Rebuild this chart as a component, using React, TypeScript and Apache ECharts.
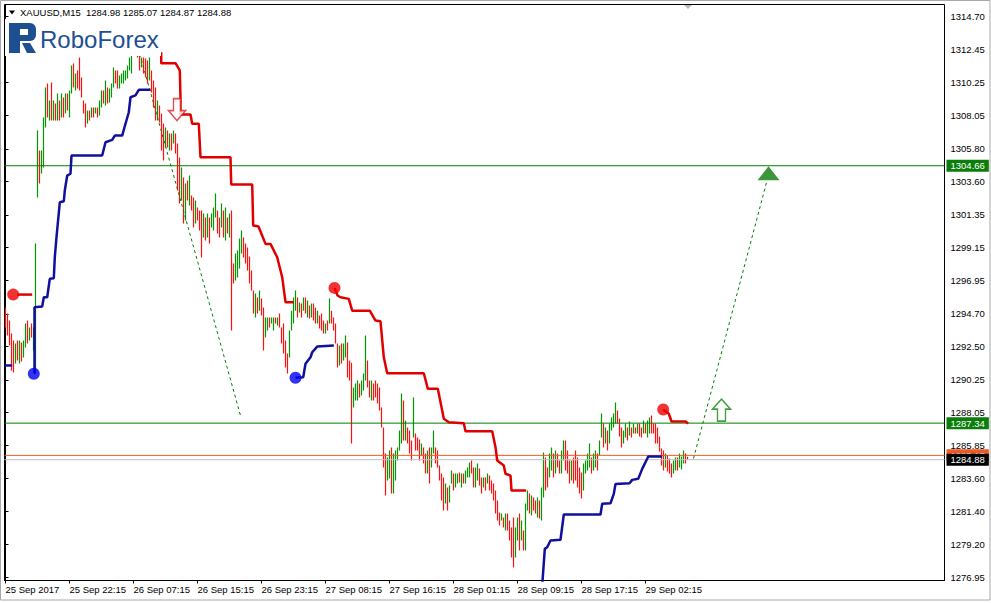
import { useEffect, useRef } from 'react';
import * as echarts from 'echarts';

const FONT = '"Liberation Sans", Arial, Helvetica, sans-serif';
const UP_COLOR = '#009a00';
const DOWN_COLOR = '#ff1010';
const RES_COLOR = '#e00000';
const SUP_COLOR = '#10109c';
const FORECAST_COLOR = '#008000';
const LOGO_BLUE = '#1d4f91';

// ---- OHLC bars (XAUUSD M15): high, low and direction (u = up bar, d = down bar) ----
const barHighs = [
  1295.12, 1294.71, 1294.24, 1293.37, 1292.90, 1292.69, 1292.90, 1292.90, 1292.76, 1292.90,
  1294.04, 1294.24, 1293.77, 1294.04, 1293.77, 1299.43, 1307.03, 1305.68, 1305.68, 1307.91,
  1309.92, 1310.19, 1309.05, 1310.26, 1309.05, 1308.85, 1309.52, 1309.05, 1309.52, 1309.25,
  1309.52, 1309.52, 1309.72, 1311.40, 1311.54, 1310.87, 1311.07, 1311.94, 1310.60, 1309.05,
  1308.85, 1308.38, 1308.38, 1308.58, 1308.58, 1308.58, 1308.58, 1309.05, 1309.72, 1309.72,
  1310.39, 1309.92, 1309.86, 1310.19, 1311.27, 1311.07, 1311.07, 1310.73, 1310.87, 1311.07,
  1311.07, 1311.40, 1311.94, 1312.75, 1313.42, 1313.76, 1313.42, 1312.75, 1311.94, 1311.94,
  1311.87, 1311.74, 1311.94, 1311.07, 1310.39, 1309.92, 1309.05, 1308.71, 1308.17, 1307.50,
  1307.23, 1307.03, 1306.83, 1306.83, 1307.03, 1306.83, 1306.15, 1305.21, 1304.54, 1303.87,
  1303.46, 1303.67, 1304.00, 1302.66, 1302.52, 1302.32, 1301.85, 1301.65, 1301.65, 1301.44,
  1301.17, 1301.44, 1301.17, 1301.44, 1301.85, 1302.79, 1301.65, 1301.17, 1302.12, 1301.65,
  1301.85, 1301.17, 1301.44, 1301.65, 1298.08, 1298.75, 1298.95, 1299.76, 1300.30, 1299.83,
  1299.43, 1299.16, 1298.55, 1297.61, 1296.26, 1296.06, 1295.79, 1296.26, 1295.73, 1295.12,
  1294.44, 1294.44, 1294.44, 1294.44, 1294.44, 1294.44, 1294.44, 1294.71, 1293.77, 1294.04,
  1292.90, 1292.02, 1293.57, 1294.91, 1295.79, 1296.26, 1295.79, 1295.46, 1295.39, 1295.79,
  1295.79, 1295.59, 1295.25, 1295.39, 1295.39, 1295.12, 1294.91, 1294.58, 1294.71, 1294.24,
  1294.04, 1294.24, 1295.73, 1294.91, 1294.44, 1294.04, 1292.69, 1292.56, 1292.69, 1292.69,
  1293.23, 1292.76, 1291.55, 1291.41, 1289.74, 1290.01, 1290.21, 1290.01, 1290.21, 1290.68,
  1293.23, 1291.55, 1290.21, 1290.21, 1290.01, 1290.21, 1290.01, 1289.74, 1288.39, 1287.04,
  1285.29, 1285.02, 1285.50, 1285.70, 1285.29, 1285.50, 1285.70, 1286.84, 1289.33, 1288.86,
  1287.52, 1287.04, 1286.84, 1286.17, 1289.06, 1286.64, 1286.37, 1286.24, 1285.97, 1285.70,
  1285.29, 1285.50, 1285.70, 1285.70, 1286.84, 1285.70, 1285.50, 1284.49, 1283.95, 1283.68,
  1283.28, 1283.01, 1283.14, 1284.15, 1283.95, 1283.95, 1283.95, 1284.02, 1283.95, 1283.95,
  1284.15, 1284.35, 1284.69, 1284.82, 1284.35, 1284.35, 1284.62, 1284.29, 1283.68, 1283.68,
  1283.68, 1283.95, 1283.82, 1283.48, 1283.28, 1282.80, 1282.13, 1281.33, 1281.26, 1280.99,
  1281.26, 1281.26, 1280.79, 1280.31, 1280.99, 1280.31, 1280.99, 1281.26, 1280.79, 1280.11,
  1281.93, 1282.80, 1282.60, 1282.47, 1282.33, 1282.13, 1282.33, 1282.13, 1283.01, 1285.36,
  1285.02, 1284.35, 1285.29, 1285.70, 1285.29, 1285.50, 1285.29, 1284.82, 1285.50, 1286.17,
  1286.17, 1285.50, 1284.82, 1284.82, 1285.02, 1285.50, 1285.02, 1284.35, 1284.02, 1284.62,
  1284.82, 1285.29, 1285.97, 1285.02, 1285.29, 1285.50, 1285.29, 1286.17, 1287.99, 1287.31,
  1287.04, 1286.84, 1287.31, 1287.72, 1287.99, 1288.73, 1288.19, 1287.65, 1287.04, 1286.84,
  1287.31, 1287.04, 1287.45, 1287.04, 1287.31, 1287.04, 1287.31, 1287.31, 1287.04, 1287.52,
  1287.31, 1287.52, 1287.72, 1287.85, 1287.31, 1287.31, 1287.04, 1286.44, 1285.63, 1285.50,
  1285.29, 1285.16, 1284.96, 1284.62, 1284.82, 1285.02, 1285.02, 1285.29, 1285.09, 1285.50,
  1285.29, 1285.07,
];

const barLows = [
  1293.77, 1293.23, 1292.56, 1290.88, 1290.74, 1291.35, 1291.55, 1291.35, 1291.48, 1291.75,
  1292.43, 1292.69, 1292.90, 1293.10, 1292.22, 1290.74, 1302.52, 1303.46, 1304.14, 1304.54,
  1307.23, 1307.91, 1307.70, 1307.70, 1307.70, 1307.70, 1307.70, 1307.70, 1307.91, 1307.91,
  1308.17, 1308.38, 1307.91, 1309.52, 1309.92, 1309.72, 1309.86, 1309.72, 1309.25, 1308.17,
  1307.23, 1307.50, 1307.70, 1307.91, 1307.91, 1308.17, 1307.91, 1308.04, 1308.58, 1308.85,
  1308.71, 1308.85, 1308.91, 1309.25, 1309.92, 1310.19, 1309.86, 1309.86, 1310.19, 1310.19,
  1310.39, 1310.53, 1311.07, 1310.87, 1312.08, 1312.28, 1311.94, 1311.07, 1311.27, 1310.87,
  1310.60, 1310.19, 1310.39, 1309.59, 1308.58, 1307.70, 1307.70, 1307.57, 1305.68, 1305.01,
  1305.89, 1305.89, 1305.68, 1305.68, 1306.15, 1305.48, 1302.99, 1302.12, 1302.32, 1300.77,
  1300.97, 1302.32, 1301.99, 1301.65, 1300.50, 1300.77, 1300.97, 1300.30, 1298.48, 1299.83,
  1299.63, 1299.83, 1299.43, 1300.50, 1300.30, 1301.17, 1300.10, 1299.83, 1300.50, 1299.83,
  1299.63, 1300.10, 1299.83, 1293.57, 1296.73, 1296.94, 1297.14, 1297.74, 1298.75, 1298.48,
  1298.08, 1297.61, 1296.73, 1296.26, 1294.71, 1294.44, 1294.71, 1294.91, 1294.58, 1292.22,
  1293.10, 1293.57, 1293.77, 1294.04, 1293.57, 1294.04, 1293.91, 1293.77, 1292.69, 1292.02,
  1291.08, 1290.68, 1291.75, 1293.57, 1294.04, 1294.91, 1294.44, 1294.78, 1294.44, 1294.91,
  1294.71, 1294.44, 1294.38, 1294.44, 1294.24, 1294.04, 1294.04, 1293.71, 1293.57, 1293.37,
  1293.37, 1293.57, 1294.04, 1294.04, 1293.57, 1292.69, 1291.08, 1291.21, 1291.35, 1291.55,
  1291.75, 1290.41, 1290.21, 1285.97, 1288.39, 1288.86, 1288.86, 1289.06, 1289.20, 1289.54,
  1290.21, 1289.74, 1289.06, 1288.86, 1288.86, 1289.06, 1288.66, 1288.19, 1287.04, 1284.35,
  1282.47, 1283.48, 1283.61, 1282.60, 1282.60, 1283.48, 1284.82, 1285.50, 1285.97, 1286.17,
  1286.17, 1285.97, 1285.29, 1284.82, 1286.37, 1285.50, 1285.50, 1284.82, 1285.16, 1284.62,
  1283.95, 1283.95, 1283.28, 1284.35, 1285.29, 1284.62, 1284.35, 1283.48, 1282.13, 1281.46,
  1281.93, 1281.46, 1282.00, 1283.28, 1282.80, 1283.01, 1283.28, 1283.34, 1283.01, 1283.28,
  1283.28, 1283.68, 1283.68, 1283.95, 1283.01, 1283.01, 1283.48, 1283.14, 1282.60, 1283.01,
  1282.80, 1283.28, 1282.80, 1282.60, 1282.13, 1281.26, 1280.79, 1280.45, 1280.79, 1280.31,
  1280.11, 1280.11, 1279.44, 1278.30, 1277.62, 1278.30, 1279.44, 1278.77, 1279.44, 1278.77,
  1278.77, 1281.46, 1281.26, 1281.12, 1281.46, 1281.26, 1280.99, 1280.92, 1280.79, 1282.33,
  1282.80, 1283.01, 1283.68, 1284.15, 1283.68, 1283.95, 1284.35, 1283.95, 1283.95, 1284.82,
  1284.15, 1283.95, 1283.28, 1283.48, 1283.28, 1283.48, 1283.01, 1282.60, 1282.27, 1282.80,
  1283.95, 1284.15, 1284.35, 1283.95, 1284.15, 1284.35, 1284.15, 1285.16, 1286.37, 1285.70,
  1285.97, 1285.50, 1285.97, 1286.84, 1287.04, 1287.31, 1287.31, 1286.44, 1285.70, 1285.97,
  1286.37, 1286.17, 1286.51, 1286.37, 1286.64, 1286.64, 1286.64, 1286.44, 1286.37, 1286.64,
  1286.64, 1286.37, 1286.64, 1286.64, 1286.64, 1285.97, 1285.97, 1285.43, 1284.49, 1284.15,
  1284.35, 1284.08, 1283.95, 1283.68, 1283.95, 1284.15, 1284.15, 1284.35, 1284.22, 1284.62,
  1284.62, 1284.87,
];

const barDirs = [
  'dddddududu', 'ududuuuduu', 'ududududud', 'uduududddd', 'dudududuud',
  'uduuudduuu', 'uuuuudddud', 'dduddduddd', 'udududddud', 'ududdudddu',
  'duduuuddud', 'ududduuuud', 'dddddududd', 'uuduududdd', 'dduuuududu',
  'dududduddd', 'ududdddudu', 'uddduuuduu', 'uddudddddd', 'duuduuuuud',
  'udddudddud', 'duduuddddd', 'uduuduudud', 'uuudduuddu', 'duddddddud',
  'udddduudud', 'uududduduu', 'dduududduu', 'dddudddddu', 'uuuduuduud',
  'uduuuudddu', 'ududududdu', 'duuddddddd', 'uddduuduuudd',
].join('');

// ---- time axis ----
const xTickBars = [0, 32, 64, 96, 128, 160, 192, 224, 256, 288, 320];
const xTickLabels = [
  '25 Sep 2017', '25 Sep 22:15', '26 Sep 07:15', '26 Sep 15:15', '26 Sep 23:15',
  '27 Sep 08:15', '27 Sep 16:15', '28 Sep 01:15', '28 Sep 09:15', '28 Sep 17:15', '29 Sep 02:15',
];

// ---- price axis ----
const yTickValues = [
  1276.95, 1279.2, 1281.4, 1283.6, 1285.85, 1288.05, 1290.25, 1292.5, 1294.7,
  1296.95, 1299.15, 1301.35, 1303.6, 1305.8, 1308.05, 1310.25, 1312.45, 1314.7,
];

// ---- horizontal levels ----
const levelPrices = [1304.66, 1287.34, 1285.17, 1284.88];
const levelLineColors = ['#008000', '#008000', '#ee5a24', '#c0c0c0'];
const levelBoxColors = ['#0a7d0a', '#0a7d0a', '#ee5a24', '#000000'];

// ---- indicator: resistance (red) and support (blue) step lines ----
const resistanceA = [[5.85, 1295.99], [13.35, 1295.99]];
const resistanceB = [
  [77.85, 1312.3], [77.85, 1311.56], [85, 1311.56], [87.15, 1311.07], [87.5, 1309.16],
  [87.5, 1308.11], [92.5, 1308.11], [93.35, 1307.48], [96.65, 1307.48], [97.5, 1305.23],
  [112.5, 1305.23], [112.85, 1303.4], [123.35, 1303.4], [123.85, 1300.64], [126.5, 1300.57],
  [130, 1299.4], [132.5, 1299.4], [135.85, 1298.5], [138.35, 1297.16], [140, 1295.48],
  [144.15, 1295.48],
];
const resistanceC = [
  [164.5, 1296.44], [166, 1295.93], [167.5, 1295.81], [171.65, 1295.7], [173.35, 1294.91],
  [182.15, 1294.91], [185, 1294.24], [187.5, 1294.19], [189.15, 1291.77], [190.85, 1290.7],
  [209.15, 1290.7], [211.15, 1289.65], [216.15, 1289.65], [218.35, 1288.19], [219.15, 1287.63],
  [221.65, 1287.4], [229.15, 1287.33], [230, 1286.79], [243.35, 1286.79], [245, 1285.72],
  [245.85, 1284.82], [249.15, 1284.49], [250, 1283.93], [252.5, 1283.81], [253, 1282.8],
  [260.35, 1282.8],
];
const resistanceD = [[328.85, 1288.26], [331.65, 1287.97], [333, 1287.45], [340, 1287.45], [341.35, 1287.31]];

const supportA = [[-0.5, 1291.22], [3.35, 1291.22]];
const supportB = [
  [14.5, 1290.66], [14.5, 1295.14], [18.35, 1295.19], [19.15, 1295.81], [20.85, 1295.81],
  [22.15, 1297.05], [24.15, 1297.09], [24.65, 1298.5], [25.5, 1299.85], [27.15, 1302.2],
  [29.15, 1302.27], [29.65, 1302.99], [30.85, 1304.0], [32.5, 1304.12], [33, 1305.35],
  [48.35, 1305.35], [50, 1306.24], [53.35, 1306.4], [54.65, 1306.69], [58.35, 1306.69],
  [59.5, 1307.25], [61.65, 1308.26], [62.5, 1309.27], [65, 1309.39], [66.65, 1309.77],
  [72.5, 1309.77],
];
const supportC = [
  [145, 1290.39], [146.5, 1290.41], [148.85, 1290.43], [150, 1291.33], [152.5, 1291.77],
  [153.35, 1292.11], [155.85, 1292.49], [164.15, 1292.56],
];
const supportD = [
  [268.35, 1276.41], [269.65, 1278.88], [270.85, 1278.99], [272.5, 1279.44], [277.5, 1279.49],
  [279.15, 1281.19], [297.5, 1281.19], [298.35, 1281.91], [302.5, 1281.95], [304.15, 1282.58],
  [305, 1283.25], [312, 1283.29], [313.35, 1283.52], [316.35, 1283.59], [318.35, 1284.26],
  [320.85, 1284.94], [321.35, 1285.09], [328.35, 1285.09],
];

const resistanceDots = [[3.85, 1295.99], [164.5, 1296.44], [328.85, 1288.26]];
const supportDots = [[14.15, 1290.66], [145, 1290.39]];

// ---- forecast ----
const forecastDown = [[65.5, 1312.98], [117.5, 1287.85]];
const forecastUp = [[344, 1284.96], [380.5, 1303.53]];
const sellArrow = [[85.75, 1308.44]];
const buyArrow = [[358, 1288.22]];
const targetMark = [[381.5, 1304.15]];

const X_MIN = -0.5;
const X_MAX = 469.5;

function lineSeries(data: any[], color: string, width: number, z: number, dashed = false): any {
  return {
    type: 'line',
    data,
    symbol: 'none',
    showSymbol: false,
    silent: true,
    clip: true,
    connectNulls: false,
    z,
    itemStyle: { color },
    lineStyle: { color, width, type: dashed ? [3, 3] : 'solid' },
  };
}

// vertical high-low strokes for the bars of one direction, separated by gaps
function barStrokes(dir: string): any[] {
  const out: any[] = [];
  barHighs.forEach((h, i) => {
    if (barDirs[i] !== dir) return;
    out.push([i, barLows[i]], [i, h], [i, '-']);
  });
  return out;
}

export default function App() {
  const ref = useRef<HTMLDivElement>(null);

  useEffect(() => {
    document.body.style.margin = '0';
    const chart = echarts.init(ref.current!, null, { renderer: 'svg' });

    const levelSeries = levelPrices.map((p, k) => ({
      type: 'line',
      data: [[X_MIN, p], [X_MAX, p]],
      symbol: 'none',
      showSymbol: false,
      silent: true,
      z: 3,
      itemStyle: { color: levelLineColors[k] },
      lineStyle: { color: levelLineColors[k], width: 1, type: 'solid' },
      endLabel: {
        show: true,
        distance: 2,
        formatter: () => p.toFixed(2),
        color: '#ffffff',
        backgroundColor: levelBoxColors[k],
        padding: [1, 4, 0, 4],
        lineHeight: 11,
        fontSize: 9.5,
        fontFamily: FONT,
      },
    }));

    const option: any = {
      animation: false,
      backgroundColor: '#ffffff',
      grid: {
        left: 4.5,
        right: 46.5,
        top: 4.5,
        bottom: 22.5,
        show: true,
        borderColor: '#000000',
        borderWidth: 1,
        backgroundColor: '#ffffff',
      },
      xAxis: {
        type: 'value',
        min: X_MIN,
        max: X_MAX,
        splitLine: { show: false },
        axisLine: { show: true, lineStyle: { color: '#000', width: 1 } },
        axisTick: { show: true, customValues: xTickBars, length: 3, lineStyle: { color: '#000' } },
        axisLabel: {
          show: true,
          customValues: xTickBars,
          formatter: (v: number) => {
            const k = xTickBars.indexOf(Math.round(v));
            return k >= 0 ? xTickLabels[k] : '';
          },
          align: 'left',
          margin: 4,
          fontSize: 9.5,
          fontFamily: FONT,
          color: '#000',
        },
      },
      yAxis: {
        type: 'value',
        position: 'right',
        min: 1276.75,
        max: 1315.51,
        splitLine: { show: false },
        axisLine: { show: true, lineStyle: { color: '#000', width: 1 } },
        axisTick: { show: true, customValues: yTickValues, length: 3, lineStyle: { color: '#000' } },
        axisLabel: {
          show: true,
          customValues: yTickValues,
          formatter: (v: number) => v.toFixed(2),
          margin: 6,
          fontSize: 9.5,
          fontFamily: FONT,
          color: '#000',
        },
      },
      series: [
        { ...lineSeries(barStrokes('u'), UP_COLOR, 1.2, 2), progressive: 0 },
        { ...lineSeries(barStrokes('d'), DOWN_COLOR, 1.2, 2), progressive: 0 },
        ...levelSeries,
        lineSeries(forecastDown, FORECAST_COLOR, 1, 3, true),
        lineSeries(forecastUp, FORECAST_COLOR, 1, 3, true),
        lineSeries(resistanceA, RES_COLOR, 2.5, 4),
        lineSeries(resistanceB, RES_COLOR, 2.5, 4),
        lineSeries(resistanceC, RES_COLOR, 2.5, 4),
        lineSeries(resistanceD, RES_COLOR, 2.5, 4),
        lineSeries(supportA, SUP_COLOR, 2.5, 4),
        lineSeries(supportB, SUP_COLOR, 2.5, 4),
        lineSeries(supportC, SUP_COLOR, 2.5, 4),
        lineSeries(supportD, SUP_COLOR, 2.5, 4),
        {
          type: 'scatter',
          data: resistanceDots,
          symbol: 'circle',
          symbolSize: 12,
          itemStyle: { color: '#f00000' },
          silent: true,
          z: 5,
        },
        {
          type: 'scatter',
          data: supportDots,
          symbol: 'circle',
          symbolSize: 12,
          itemStyle: { color: '#0000f0' },
          silent: true,
          z: 5,
        },
        {
          type: 'scatter',
          data: sellArrow,
          symbol: 'path://M5,0H12V12H17L8.5,22L0,12H5Z',
          symbolSize: [17, 22],
          itemStyle: { color: '#ffffff', borderColor: '#e02020', borderWidth: 1.5 },
          silent: true,
          z: 6,
        },
        {
          type: 'scatter',
          data: buyArrow,
          symbol: 'path://M9,0L18,10H13V22H5V10H0Z',
          symbolSize: [18, 22],
          itemStyle: { color: '#ffffff', borderColor: '#118811', borderWidth: 1.5 },
          silent: true,
          z: 6,
        },
        {
          type: 'scatter',
          data: targetMark,
          symbol: 'triangle',
          symbolSize: [22, 14],
          itemStyle: { color: '#0a7d0a' },
          silent: true,
          z: 6,
        },
      ],
      graphic: [
        {
          type: 'rect',
          z: 100,
          silent: true,
          shape: { x: 0.5, y: 0.5, width: 989.5, height: 599.5 },
          style: { fill: 'none', stroke: '#a8a8a8', lineWidth: 1 },
        },
        {
          type: 'rect',
          z: 100,
          silent: true,
          shape: { x: 5, y: 19, width: 156, height: 37 },
          style: { fill: '#ffffff' },
        },
        {
          type: 'polygon',
          z: 101,
          silent: true,
          shape: { points: [[9, 10.5], [15, 10.5], [12, 14.5]] },
          style: { fill: '#000000' },
        },
        {
          type: 'text',
          z: 101,
          silent: true,
          style: {
            text: 'XAUUSD,M15',
            x: 20,
            y: 12.7,
            fill: '#000',
            fontSize: 9.5,
            fontFamily: FONT,
            verticalAlign: 'middle',
          },
        },
        {
          type: 'text',
          z: 101,
          silent: true,
          style: {
            text: '1284.98 1285.07 1284.87 1284.88',
            x: 86,
            y: 12.7,
            fill: '#000',
            fontSize: 9.5,
            fontFamily: FONT,
            verticalAlign: 'middle',
          },
        },
        {
          type: 'polygon',
          z: 101,
          silent: true,
          shape: { points: [[684, 5], [692, 5], [688, 9]] },
          style: { fill: '#b8b8b8' },
        },
        // RoboForex logo
        {
          type: 'rect',
          z: 101,
          silent: true,
          shape: { x: 9, y: 23, width: 27, height: 18, r: [0, 6, 6, 0] },
          style: { fill: LOGO_BLUE },
        },
        {
          type: 'rect',
          z: 101,
          silent: true,
          shape: { x: 9, y: 23, width: 11, height: 30 },
          style: { fill: LOGO_BLUE },
        },
        {
          type: 'rect',
          z: 102,
          silent: true,
          shape: { x: 20, y: 29, width: 8, height: 6 },
          style: { fill: '#ffffff' },
        },
        {
          type: 'polygon',
          z: 101,
          silent: true,
          shape: { points: [[22, 43], [30, 43], [36, 53], [27, 53]] },
          style: { fill: LOGO_BLUE },
        },
        {
          type: 'text',
          z: 101,
          silent: true,
          style: {
            text: 'RoboForex',
            x: 40,
            y: 39.5,
            fill: LOGO_BLUE,
            fontSize: 24,
            fontFamily: FONT,
            verticalAlign: 'middle',
          },
        },
      ],
    };

    chart.setOption(option);
    return () => chart.dispose();
  }, []);

  return (
    <div
      ref={ref}
      style={{ position: 'fixed', left: 0, top: 0, width: 991, height: 603, background: '#ffffff' }}
    />
  );
}
